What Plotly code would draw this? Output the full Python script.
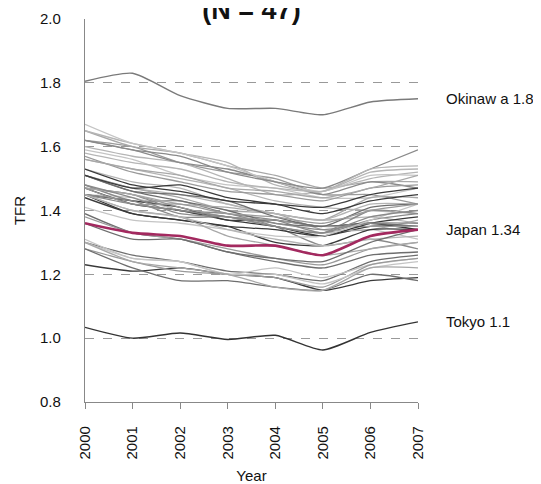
import plotly.graph_objects as go

years = [2000, 2001, 2002, 2003, 2004, 2005, 2006, 2007]

prefectures = [
    "Hokkaido", "Aomori", "Iwate", "Miyagi", "Akita", "Yamagata", "Fukushima",
    "Ibaraki", "Tochigi", "Gunma", "Saitama", "Chiba", "Kanagawa", "Niigata",
    "Toyama", "Ishikawa", "Fukui", "Yamanashi", "Nagano", "Gifu", "Shizuoka",
    "Aichi", "Mie", "Shiga", "Kyoto", "Osaka", "Hyogo", "Nara", "Wakayama",
    "Tottori", "Shimane", "Okayama", "Hiroshima", "Yamaguchi", "Tokushima",
    "Kagawa", "Ehime", "Kochi", "Fukuoka", "Saga", "Nagasaki", "Kumamoto",
    "Oita", "Miyazaki", "Kagoshima",
]

tfr_values = [
    [1.23, 1.21, 1.22, 1.20, 1.19, 1.15, 1.18, 1.19],
    [1.47, 1.45, 1.40, 1.39, 1.35, 1.29, 1.31, 1.28],
    [1.56, 1.53, 1.50, 1.47, 1.43, 1.41, 1.40, 1.39],
    [1.39, 1.33, 1.31, 1.27, 1.24, 1.22, 1.26, 1.27],
    [1.45, 1.44, 1.40, 1.38, 1.35, 1.33, 1.34, 1.31],
    [1.62, 1.60, 1.55, 1.52, 1.50, 1.45, 1.45, 1.42],
    [1.65, 1.60, 1.58, 1.54, 1.51, 1.47, 1.49, 1.49],
    [1.47, 1.42, 1.40, 1.37, 1.35, 1.32, 1.35, 1.35],
    [1.48, 1.43, 1.43, 1.39, 1.37, 1.33, 1.37, 1.39],
    [1.51, 1.47, 1.45, 1.42, 1.39, 1.37, 1.38, 1.36],
    [1.30, 1.26, 1.24, 1.21, 1.20, 1.18, 1.24, 1.26],
    [1.30, 1.25, 1.24, 1.20, 1.22, 1.19, 1.23, 1.25],
    [1.28, 1.24, 1.21, 1.20, 1.19, 1.16, 1.23, 1.25],
    [1.51, 1.47, 1.44, 1.40, 1.39, 1.34, 1.34, 1.37],
    [1.45, 1.43, 1.41, 1.37, 1.37, 1.35, 1.36, 1.34],
    [1.45, 1.43, 1.38, 1.38, 1.35, 1.33, 1.40, 1.39],
    [1.60, 1.57, 1.55, 1.50, 1.45, 1.46, 1.50, 1.52],
    [1.51, 1.46, 1.43, 1.40, 1.36, 1.35, 1.36, 1.35],
    [1.59, 1.56, 1.51, 1.48, 1.47, 1.44, 1.44, 1.47],
    [1.47, 1.45, 1.41, 1.38, 1.37, 1.35, 1.35, 1.35],
    [1.47, 1.45, 1.42, 1.41, 1.39, 1.37, 1.44, 1.44],
    [1.44, 1.39, 1.37, 1.35, 1.34, 1.32, 1.36, 1.38],
    [1.48, 1.44, 1.39, 1.38, 1.36, 1.34, 1.36, 1.36],
    [1.53, 1.49, 1.47, 1.42, 1.39, 1.37, 1.42, 1.42],
    [1.28, 1.22, 1.18, 1.18, 1.16, 1.15, 1.20, 1.18],
    [1.31, 1.25, 1.24, 1.20, 1.20, 1.17, 1.22, 1.24],
    [1.38, 1.33, 1.31, 1.28, 1.25, 1.23, 1.28, 1.30],
    [1.30, 1.24, 1.22, 1.20, 1.16, 1.15, 1.22, 1.22],
    [1.45, 1.39, 1.37, 1.35, 1.30, 1.29, 1.34, 1.34],
    [1.62, 1.59, 1.55, 1.53, 1.49, 1.45, 1.49, 1.47],
    [1.65, 1.61, 1.58, 1.55, 1.48, 1.46, 1.52, 1.53],
    [1.51, 1.46, 1.45, 1.43, 1.38, 1.35, 1.41, 1.42],
    [1.41, 1.37, 1.36, 1.34, 1.32, 1.32, 1.37, 1.42],
    [1.47, 1.42, 1.42, 1.39, 1.38, 1.36, 1.40, 1.42],
    [1.45, 1.40, 1.38, 1.32, 1.29, 1.26, 1.28, 1.30],
    [1.53, 1.48, 1.46, 1.43, 1.42, 1.41, 1.45, 1.47],
    [1.45, 1.42, 1.40, 1.38, 1.35, 1.33, 1.38, 1.40],
    [1.45, 1.40, 1.38, 1.34, 1.31, 1.29, 1.31, 1.32],
    [1.36, 1.31, 1.31, 1.27, 1.25, 1.24, 1.30, 1.34],
    [1.67, 1.61, 1.58, 1.54, 1.49, 1.46, 1.51, 1.51],
    [1.57, 1.52, 1.49, 1.46, 1.45, 1.43, 1.47, 1.48],
    [1.56, 1.53, 1.51, 1.47, 1.46, 1.44, 1.47, 1.51],
    [1.51, 1.47, 1.48, 1.44, 1.42, 1.39, 1.43, 1.45],
    [1.62, 1.59, 1.57, 1.52, 1.49, 1.47, 1.53, 1.59],
    [1.58, 1.55, 1.53, 1.49, 1.47, 1.46, 1.53, 1.54],
]

okinawa_values = [1.805, 1.83, 1.76, 1.72, 1.72, 1.70, 1.74, 1.75]
tokyo_values = [1.034, 1.00, 1.016, 0.996, 1.009, 0.963, 1.018, 1.051]
japan_values = [1.36, 1.33, 1.32, 1.29, 1.29, 1.26, 1.32, 1.34]

label_okinawa = "Okinaw a 1.8"
label_japan = "Japan 1.34"
label_tokyo = "Tokyo 1.1"

FONT = "Liberation Sans"
shades = ["#3a3a3a", "#8a8a8a", "#b5b5b5", "#6e6e6e", "#c4c4c4", "#9a9a9a", "#a8a8a8"]

fig = go.Figure()
for i, (name, vals) in enumerate(zip(prefectures, tfr_values)):
    fig.add_trace(go.Scatter(
        x=years, y=vals, mode="lines", name=name,
        line=dict(color=shades[i % len(shades)], width=1.3, shape="spline", smoothing=0.6),
        showlegend=False, hoverinfo="name+y"))

fig.add_trace(go.Scatter(x=years, y=okinawa_values, mode="lines", name="Okinawa",
                         line=dict(color="#7a7a7a", width=1.4, shape="spline", smoothing=0.6),
                         showlegend=False))
fig.add_trace(go.Scatter(x=years, y=tokyo_values, mode="lines", name="Tokyo",
                         line=dict(color="#333333", width=1.4, shape="spline", smoothing=0.6),
                         showlegend=False))
fig.add_trace(go.Scatter(x=years, y=japan_values, mode="lines", name="Japan",
                         line=dict(color="#a3295f", width=2.6, shape="spline", smoothing=0.6),
                         showlegend=False))

for txt, yv in [(label_okinawa, okinawa_values[-1]), (label_japan, japan_values[-1]),
                (label_tokyo, tokyo_values[-1])]:
    fig.add_annotation(x=years[-1], y=yv, xref="x", yref="y", text=txt, showarrow=False,
                       xanchor="left", yanchor="middle", xshift=26,
                       font=dict(family=FONT, size=15, color="#111111"))

fig.update_layout(
    width=533, height=476,
    margin=dict(l=77, r=123, t=11, b=82, autoexpand=False),
    paper_bgcolor="white", plot_bgcolor="white",
    font=dict(family=FONT, size=15, color="#111111"),
    title=dict(text="<b>(N = 47)</b>", x=0.5, xref="paper", y=1 - 2.0 / 476,
               yref="container", yanchor="middle", xanchor="center",
               font=dict(family=FONT, size=27, color="#111111")),
)

fig.update_xaxes(
    range=[2000, 2007], tickmode="array", tickvals=years,
    ticktext=[str(y) for y in years], tickangle=-90,
    ticks="outside", ticklen=6, tickcolor="#888888", tickwidth=1,
    showline=True, linecolor="#888888", linewidth=1.2,
    showgrid=False, zeroline=False, ticklabelstandoff=11, automargin=False,
    title=dict(text="Year", standoff=12, font=dict(family=FONT, size=15)),
    tickfont=dict(family=FONT, size=15),
)
fig.update_yaxes(
    range=[0.8, 2.0], tickmode="array", tickvals=[0.8, 1.0, 1.2, 1.4, 1.6, 1.8, 2.0],
    ticktext=["0.8", "1.0", "1.2", "1.4", "1.6", "1.8", "2.0"],
    ticks="", showline=True, linecolor="#888888", linewidth=1.2,
    showgrid=True, gridcolor="#999999", griddash="dash", gridwidth=1,
    zeroline=False, ticklabelstandoff=20, automargin=False,
    title=dict(text="TFR", standoff=10, font=dict(family=FONT, size=15)),
    tickfont=dict(family=FONT, size=15),
)

fig.write_html("out.html")
